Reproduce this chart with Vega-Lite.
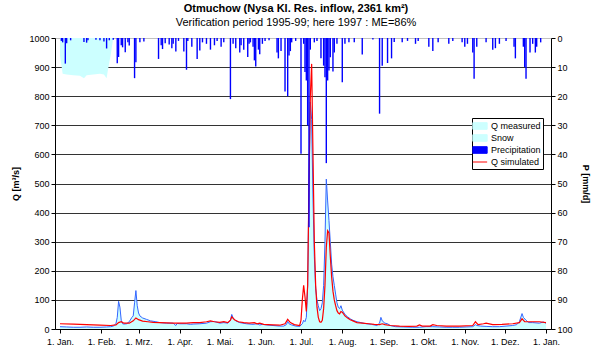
{
  "$schema": "https://vega.github.io/schema/vega-lite/v6.json",
  "width": 496,
  "height": 291,
  "autosize": {"type": "none"},
  "padding": {"left": 55, "top": 38, "right": 43, "bottom": 22},
  "config": {
    "font": "Liberation Sans",
    "view": {"stroke": null},
    "axis": {"labelFontSize": 9, "labelColor": "#000", "tickColor": "#000", "domainColor": "#000", "titleFontSize": 9, "titleColor": "#000", "titleFontWeight": "bold", "tickSize": 4, "labelOverlap": false},
    "legend": {
      "orient": "none", "legendX": 417, "legendY": 80,
      "strokeColor": "#000", "fillColor": "#fff", "padding": 2, "rowPadding": 0,
      "labelFontSize": 9, "labelColor": "#000", "labelOffset": 5,
      "symbolType": "M-1.3,-0.6H1.3V0.6H-1.3Z", "symbolSize": 121, "symbolStrokeWidth": 1
    }
  },
  "title": {
    "text": "Otmuchow (Nysa Kl. Res. inflow, 2361 km²)",
    "subtitle": "Verification period 1995-99; here 1997 : ME=86%",
    "fontSize": 11,
    "fontWeight": "bold",
    "subtitleFontSize": 11,
    "subtitleColor": "#000",
    "color": "#000",
    "anchor": "middle",
    "dx": -7,
    "offset": 6,
    "subtitlePadding": 3
  },
  "datasets": {
    "qm": [
      {"day": 0, "q": 8}, {"day": 5, "q": 7}, {"day": 10, "q": 6}, {"day": 15, "q": 6}, {"day": 20, "q": 7}, {"day": 25, "q": 6}, {"day": 30, "q": 6}, {"day": 35, "q": 7}, {"day": 38, "q": 8}, {"day": 40, "q": 10}, {"day": 42, "q": 18}, {"day": 43, "q": 40}, {"day": 44, "q": 95}, {"day": 45, "q": 75}, {"day": 46, "q": 30}, {"day": 47, "q": 18}, {"day": 48, "q": 17}, {"day": 50, "q": 18}, {"day": 52, "q": 25}, {"day": 54, "q": 40}, {"day": 55, "q": 45}, {"day": 56, "q": 90}, {"day": 57, "q": 132}, {"day": 58, "q": 80}, {"day": 59, "q": 55}, {"day": 60, "q": 45}, {"day": 62, "q": 38}, {"day": 65, "q": 33}, {"day": 68, "q": 28}, {"day": 72, "q": 25}, {"day": 75, "q": 22}, {"day": 80, "q": 20}, {"day": 85, "q": 20}, {"day": 87, "q": 12}, {"day": 88, "q": 19}, {"day": 90, "q": 18}, {"day": 95, "q": 18}, {"day": 98, "q": 16}, {"day": 100, "q": 17}, {"day": 105, "q": 18}, {"day": 110, "q": 20}, {"day": 113, "q": 25}, {"day": 116, "q": 26}, {"day": 120, "q": 20}, {"day": 123, "q": 22}, {"day": 126, "q": 20}, {"day": 128, "q": 30}, {"day": 129, "q": 50}, {"day": 130, "q": 38}, {"day": 132, "q": 28}, {"day": 135, "q": 22}, {"day": 140, "q": 18}, {"day": 145, "q": 16}, {"day": 148, "q": 18}, {"day": 150, "q": 14}, {"day": 152, "q": 16}, {"day": 155, "q": 14}, {"day": 160, "q": 12}, {"day": 165, "q": 10}, {"day": 168, "q": 10}, {"day": 170, "q": 15}, {"day": 171, "q": 26}, {"day": 172, "q": 18}, {"day": 174, "q": 14}, {"day": 177, "q": 10}, {"day": 180, "q": 9}, {"day": 182, "q": 18}, {"day": 183, "q": 30}, {"day": 184, "q": 25}, {"day": 185, "q": 40}, {"day": 186, "q": 150}, {"day": 187, "q": 500}, {"day": 188, "q": 780}, {"day": 189, "q": 720}, {"day": 190, "q": 450}, {"day": 191, "q": 250}, {"day": 192, "q": 140}, {"day": 193, "q": 100}, {"day": 194, "q": 80}, {"day": 195, "q": 63}, {"day": 196, "q": 70}, {"day": 197, "q": 90}, {"day": 198, "q": 150}, {"day": 199, "q": 300}, {"day": 200, "q": 515}, {"day": 201, "q": 440}, {"day": 202, "q": 373}, {"day": 203, "q": 300}, {"day": 204, "q": 223}, {"day": 205, "q": 180}, {"day": 206, "q": 150}, {"day": 207, "q": 120}, {"day": 208, "q": 90}, {"day": 209, "q": 75}, {"day": 210, "q": 70}, {"day": 211, "q": 80}, {"day": 212, "q": 65}, {"day": 214, "q": 50}, {"day": 216, "q": 42}, {"day": 218, "q": 35}, {"day": 220, "q": 30}, {"day": 223, "q": 25}, {"day": 226, "q": 22}, {"day": 230, "q": 18}, {"day": 234, "q": 16}, {"day": 238, "q": 12}, {"day": 240, "q": 20}, {"day": 241, "q": 40}, {"day": 242, "q": 28}, {"day": 244, "q": 20}, {"day": 246, "q": 18}, {"day": 248, "q": 12}, {"day": 252, "q": 8}, {"day": 258, "q": 7}, {"day": 265, "q": 6}, {"day": 270, "q": 6}, {"day": 275, "q": 8}, {"day": 280, "q": 8}, {"day": 285, "q": 7}, {"day": 290, "q": 6}, {"day": 295, "q": 6}, {"day": 300, "q": 6}, {"day": 305, "q": 7}, {"day": 310, "q": 8}, {"day": 312, "q": 15}, {"day": 313, "q": 12}, {"day": 316, "q": 10}, {"day": 320, "q": 9}, {"day": 325, "q": 8}, {"day": 330, "q": 8}, {"day": 335, "q": 10}, {"day": 340, "q": 12}, {"day": 343, "q": 15}, {"day": 345, "q": 25}, {"day": 347, "q": 53}, {"day": 348, "q": 40}, {"day": 350, "q": 30}, {"day": 352, "q": 22}, {"day": 355, "q": 22}, {"day": 360, "q": 20}, {"day": 363, "q": 24}, {"day": 365, "q": 20}
    ],
    "qs": [
      {"day": 0, "q": 18}, {"day": 10, "q": 17}, {"day": 20, "q": 15}, {"day": 30, "q": 13}, {"day": 38, "q": 12}, {"day": 42, "q": 14}, {"day": 44, "q": 22}, {"day": 46, "q": 25}, {"day": 48, "q": 20}, {"day": 52, "q": 20}, {"day": 55, "q": 28}, {"day": 57, "q": 38}, {"day": 59, "q": 32}, {"day": 62, "q": 27}, {"day": 66, "q": 25}, {"day": 70, "q": 23}, {"day": 75, "q": 22}, {"day": 80, "q": 21}, {"day": 85, "q": 20}, {"day": 90, "q": 20}, {"day": 95, "q": 20}, {"day": 100, "q": 22}, {"day": 105, "q": 22}, {"day": 110, "q": 25}, {"day": 113, "q": 28}, {"day": 116, "q": 25}, {"day": 120, "q": 23}, {"day": 123, "q": 25}, {"day": 126, "q": 22}, {"day": 128, "q": 30}, {"day": 129, "q": 42}, {"day": 131, "q": 32}, {"day": 134, "q": 25}, {"day": 138, "q": 22}, {"day": 142, "q": 20}, {"day": 146, "q": 22}, {"day": 148, "q": 18}, {"day": 150, "q": 20}, {"day": 153, "q": 16}, {"day": 156, "q": 15}, {"day": 160, "q": 14}, {"day": 165, "q": 13}, {"day": 169, "q": 18}, {"day": 171, "q": 33}, {"day": 173, "q": 22}, {"day": 176, "q": 15}, {"day": 180, "q": 12}, {"day": 181, "q": 30}, {"day": 182, "q": 100}, {"day": 183, "q": 150}, {"day": 184, "q": 110}, {"day": 185, "q": 60}, {"day": 186, "q": 150}, {"day": 187, "q": 500}, {"day": 188, "q": 800}, {"day": 189, "q": 911}, {"day": 190, "q": 600}, {"day": 191, "q": 300}, {"day": 192, "q": 150}, {"day": 193, "q": 75}, {"day": 194, "q": 40}, {"day": 195, "q": 25}, {"day": 196, "q": 23}, {"day": 197, "q": 30}, {"day": 198, "q": 70}, {"day": 199, "q": 150}, {"day": 200, "q": 280}, {"day": 201, "q": 338}, {"day": 202, "q": 330}, {"day": 203, "q": 250}, {"day": 204, "q": 180}, {"day": 205, "q": 130}, {"day": 206, "q": 100}, {"day": 207, "q": 80}, {"day": 208, "q": 63}, {"day": 209, "q": 55}, {"day": 210, "q": 52}, {"day": 211, "q": 60}, {"day": 212, "q": 58}, {"day": 214, "q": 45}, {"day": 216, "q": 38}, {"day": 218, "q": 32}, {"day": 220, "q": 28}, {"day": 223, "q": 22}, {"day": 227, "q": 20}, {"day": 232, "q": 18}, {"day": 236, "q": 16}, {"day": 240, "q": 15}, {"day": 242, "q": 18}, {"day": 244, "q": 15}, {"day": 248, "q": 12}, {"day": 255, "q": 10}, {"day": 262, "q": 9}, {"day": 268, "q": 10}, {"day": 270, "q": 14}, {"day": 272, "q": 10}, {"day": 278, "q": 10}, {"day": 280, "q": 15}, {"day": 283, "q": 12}, {"day": 290, "q": 10}, {"day": 300, "q": 10}, {"day": 310, "q": 12}, {"day": 312, "q": 25}, {"day": 314, "q": 15}, {"day": 318, "q": 18}, {"day": 320, "q": 20}, {"day": 325, "q": 15}, {"day": 332, "q": 16}, {"day": 340, "q": 18}, {"day": 345, "q": 22}, {"day": 347, "q": 35}, {"day": 349, "q": 25}, {"day": 355, "q": 25}, {"day": 360, "q": 25}, {"day": 365, "q": 22}
    ],
    "snow": [
      {"day": 0, "p": 6}, {"day": 2, "p": 12.3}, {"day": 5, "p": 12.5}, {"day": 10, "p": 12.8}, {"day": 15, "p": 13}, {"day": 18, "p": 13.8}, {"day": 20, "p": 12.8}, {"day": 25, "p": 12.5}, {"day": 30, "p": 12.3}, {"day": 33, "p": 12.5}, {"day": 35, "p": 13.8}, {"day": 36, "p": 11}, {"day": 38, "p": 6}, {"day": 40, "p": 0}
    ],
    "prec": [
      {"day": 1, "p": 1}, {"day": 2, "p": 1.5}, {"day": 4, "p": 8.8}, {"day": 5, "p": 1.8}, {"day": 8, "p": 0.8}, {"day": 18, "p": 1.4}, {"day": 20, "p": 1.6}, {"day": 21, "p": 0.8}, {"day": 27, "p": 0.6}, {"day": 30, "p": 0.8}, {"day": 33, "p": 1.2}, {"day": 35, "p": 3.6}, {"day": 37, "p": 0.8}, {"day": 40, "p": 0.6}, {"day": 43, "p": 8.7}, {"day": 44, "p": 6.5}, {"day": 46, "p": 2.5}, {"day": 47, "p": 3.2}, {"day": 49, "p": 4.9}, {"day": 51, "p": 1.5}, {"day": 52, "p": 2.6}, {"day": 56, "p": 13.8}, {"day": 57, "p": 8.3}, {"day": 60, "p": 1.5}, {"day": 63, "p": 1.2}, {"day": 74, "p": 7.2}, {"day": 76, "p": 2.5}, {"day": 77, "p": 3.8}, {"day": 79, "p": 1.8}, {"day": 82, "p": 2.2}, {"day": 84, "p": 3.5}, {"day": 85, "p": 2}, {"day": 87, "p": 4.6}, {"day": 89, "p": 1}, {"day": 93, "p": 4.6}, {"day": 95, "p": 10.9}, {"day": 96, "p": 1}, {"day": 99, "p": 3}, {"day": 103, "p": 7.2}, {"day": 105, "p": 4.3}, {"day": 107, "p": 1.5}, {"day": 110, "p": 2}, {"day": 113, "p": 4}, {"day": 116, "p": 2.5}, {"day": 118, "p": 1}, {"day": 121, "p": 3}, {"day": 123, "p": 1.5}, {"day": 128, "p": 21}, {"day": 130, "p": 2}, {"day": 132, "p": 3.5}, {"day": 135, "p": 5}, {"day": 136, "p": 2.5}, {"day": 138, "p": 4}, {"day": 141, "p": 6.5}, {"day": 142, "p": 2}, {"day": 143, "p": 1.5}, {"day": 145, "p": 3}, {"day": 146, "p": 7.7}, {"day": 147, "p": 9.8}, {"day": 149, "p": 4}, {"day": 150, "p": 5.6}, {"day": 152, "p": 2}, {"day": 154, "p": 1}, {"day": 157, "p": 0.8}, {"day": 163, "p": 5}, {"day": 164, "p": 7}, {"day": 166, "p": 4.5}, {"day": 169, "p": 18.4}, {"day": 171, "p": 20}, {"day": 172, "p": 6}, {"day": 173, "p": 4.5}, {"day": 174, "p": 1.5}, {"day": 177, "p": 1}, {"day": 181, "p": 39.8}, {"day": 183, "p": 2}, {"day": 184, "p": 11.7}, {"day": 185, "p": 14.6}, {"day": 186, "p": 30}, {"day": 187, "p": 65}, {"day": 188, "p": 4}, {"day": 191, "p": 1.5}, {"day": 193, "p": 1}, {"day": 196, "p": 7}, {"day": 198, "p": 9.5}, {"day": 199, "p": 13.5}, {"day": 200, "p": 43}, {"day": 201, "p": 14.6}, {"day": 202, "p": 11.2}, {"day": 203, "p": 6.6}, {"day": 205, "p": 11.5}, {"day": 206, "p": 5}, {"day": 208, "p": 2}, {"day": 212, "p": 15.2}, {"day": 214, "p": 2}, {"day": 217, "p": 1.5}, {"day": 221, "p": 1.5}, {"day": 227, "p": 5.7}, {"day": 235, "p": 0.5}, {"day": 240, "p": 26}, {"day": 242, "p": 9.5}, {"day": 246, "p": 8.6}, {"day": 249, "p": 7}, {"day": 251, "p": 1.4}, {"day": 257, "p": 1.5}, {"day": 261, "p": 1}, {"day": 267, "p": 2}, {"day": 269, "p": 1}, {"day": 277, "p": 3}, {"day": 280, "p": 4.5}, {"day": 284, "p": 1.5}, {"day": 292, "p": 2}, {"day": 295, "p": 1}, {"day": 302, "p": 1.5}, {"day": 304, "p": 3}, {"day": 306, "p": 2}, {"day": 310, "p": 5}, {"day": 311, "p": 14}, {"day": 313, "p": 3}, {"day": 320, "p": 1.5}, {"day": 325, "p": 4}, {"day": 327, "p": 3.5}, {"day": 330, "p": 2}, {"day": 335, "p": 1}, {"day": 341, "p": 3}, {"day": 342, "p": 7}, {"day": 348, "p": 3}, {"day": 349, "p": 10}, {"day": 350, "p": 14}, {"day": 353, "p": 5}, {"day": 355, "p": 2}, {"day": 357, "p": 5}, {"day": 358, "p": 3}, {"day": 361, "p": 1.5}
    ]
  },
  "layer": [
    {
      "encoding": {
        "x": {"field": "day", "type": "quantitative", "scale": {"domain": [0, 365], "nice": false, "zero": false},
          "axis": {"title": null, "grid": false, "values": [0, 31, 59, 90, 120, 151, 181, 212, 243, 273, 304, 334, 365], "labelExpr": "'1. ' + ['Jan.','Feb.','Mrz.','Apr.','Mai.','Jun.','Jul.','Aug.','Sep.','Okt.','Nov.','Dez.','Jan.'][indexof([0,31,59,90,120,151,181,212,243,273,304,334,365], datum.value)]", "labelPadding": 4, "labelFlush": false}},
        "y": {"field": "q", "type": "quantitative", "scale": {"domain": [0, 1000], "nice": false},
          "axis": {"orient": "left", "title": "Q [m³/s]", "values": [0, 100, 200, 300, 400, 500, 600, 700, 800, 900, 1000], "format": "d", "grid": true, "gridColor": {"condition": {"test": "datum.value === 1000", "value": "#c0c0c0"}, "value": "#333333"}, "gridOpacity": 1, "titlePadding": 8, "labelPadding": 2}}
      },
      "layer": [
        {
          "data": {"name": "qm"},
          "mark": {"type": "area", "opacity": 1},
          "encoding": {
            "color": {"datum": "Q measured", "type": "nominal",
              "scale": {"domain": ["Q measured", "Snow", "Precipitation", "Q simulated"], "range": ["#ccffff", "#ccffff", "#0000ff", "#ff0000"]},
              "legend": {
                "title": null,
                "encode": {"symbols": {"update": {
                  "shape": {"signal": "datum.label === 'Q simulated' ? 'M-1.3,0H1.3' : 'M-1.3,-0.6H1.3V0.6H-1.3Z'"},
                  "fill": {"signal": "datum.label === 'Q measured' ? '#cce8ff' : datum.label === 'Snow' ? '#ccffff' : datum.label === 'Precipitation' ? '#0000ff' : 'transparent'"},
                  "stroke": {"signal": "datum.label === 'Q measured' ? '#3366ff' : datum.label === 'Q simulated' ? '#ff0000' : datum.label === 'Precipitation' ? '#0000ff' : '#ccffff'"},
                  "opacity": {"value": 1},
                  "fillOpacity": {"value": 1},
                  "strokeOpacity": {"value": 1}
                }}}
              }}
          }
        },
        {
          "data": {"name": "qm"},
          "mark": {"type": "line", "color": "#3366ff", "strokeWidth": 1}
        },
        {
          "data": {"name": "qs"},
          "mark": {"type": "line", "strokeWidth": 1.2},
          "encoding": {
            "color": {"datum": "Q simulated", "type": "nominal", "legend": {
                "title": null,
                "encode": {"symbols": {"update": {
                  "shape": {"signal": "datum.label === 'Q simulated' ? 'M-1.3,0H1.3' : 'M-1.3,-0.6H1.3V0.6H-1.3Z'"},
                  "fill": {"signal": "datum.label === 'Q measured' ? '#cce8ff' : datum.label === 'Snow' ? '#ccffff' : datum.label === 'Precipitation' ? '#0000ff' : 'transparent'"},
                  "stroke": {"signal": "datum.label === 'Q measured' ? '#3366ff' : datum.label === 'Q simulated' ? '#ff0000' : datum.label === 'Precipitation' ? '#0000ff' : '#ccffff'"},
                  "opacity": {"value": 1},
                  "fillOpacity": {"value": 1},
                  "strokeOpacity": {"value": 1}
                }}}
              }}
          }
        }
      ]
    },
    {
      "encoding": {
        "x": {"field": "day", "type": "quantitative"},
        "y": {"field": "p", "type": "quantitative", "scale": {"domain": [0, 100], "reverse": true, "nice": false},
          "axis": {"orient": "right", "title": "P [mm/d]", "values": [0, 10, 20, 30, 40, 50, 60, 70, 80, 90, 100], "format": "d", "grid": false, "titlePadding": 8, "labelPadding": 2}}
      },
      "layer": [
        {
          "data": {"name": "snow"},
          "mark": {"type": "area", "opacity": 1},
          "encoding": {
            "color": {"datum": "Snow", "type": "nominal", "legend": {
                "title": null,
                "encode": {"symbols": {"update": {
                  "shape": {"signal": "datum.label === 'Q simulated' ? 'M-1.3,0H1.3' : 'M-1.3,-0.6H1.3V0.6H-1.3Z'"},
                  "fill": {"signal": "datum.label === 'Q measured' ? '#cce8ff' : datum.label === 'Snow' ? '#ccffff' : datum.label === 'Precipitation' ? '#0000ff' : 'transparent'"},
                  "stroke": {"signal": "datum.label === 'Q measured' ? '#3366ff' : datum.label === 'Q simulated' ? '#ff0000' : datum.label === 'Precipitation' ? '#0000ff' : '#ccffff'"},
                  "opacity": {"value": 1},
                  "fillOpacity": {"value": 1},
                  "strokeOpacity": {"value": 1}
                }}}
              }}
          }
        },
        {
          "data": {"name": "prec"},
          "mark": {"type": "bar", "size": 1.4},
          "encoding": {
            "color": {"datum": "Precipitation", "type": "nominal", "legend": {
                "title": null,
                "encode": {"symbols": {"update": {
                  "shape": {"signal": "datum.label === 'Q simulated' ? 'M-1.3,0H1.3' : 'M-1.3,-0.6H1.3V0.6H-1.3Z'"},
                  "fill": {"signal": "datum.label === 'Q measured' ? '#cce8ff' : datum.label === 'Snow' ? '#ccffff' : datum.label === 'Precipitation' ? '#0000ff' : 'transparent'"},
                  "stroke": {"signal": "datum.label === 'Q measured' ? '#3366ff' : datum.label === 'Q simulated' ? '#ff0000' : datum.label === 'Precipitation' ? '#0000ff' : '#ccffff'"},
                  "opacity": {"value": 1},
                  "fillOpacity": {"value": 1},
                  "strokeOpacity": {"value": 1}
                }}}
              }}
          }
        }
      ]
    }
  ],
  "resolve": {"scale": {"y": "independent"}}
}
